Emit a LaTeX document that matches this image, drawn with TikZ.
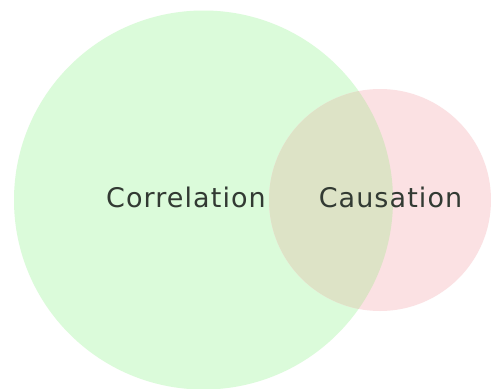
\documentclass[tikz,border=0pt]{standalone}
\usepackage{fontspec}
\setmainfont{DejaVu Sans}
\newfontfamily\lblfont[LetterSpace=4]{DejaVu Sans}
\definecolor{corrgreen}{HTML}{DBFBDA}
\definecolor{causred}{HTML}{FBE1E3}
\definecolor{overlap}{HTML}{DDE3C6}
\definecolor{labeltext}{HTML}{323A33}
\begin{document}
\begin{tikzpicture}[x=1pt,y=-1pt,
  lbl/.style={text=labeltext,font=\lblfont\fontsize{27}{30}\selectfont,anchor=base,inner sep=0pt}]
\useasboundingbox[fill=white] (0,0) rectangle (491,389);
\fill[corrgreen] (203.5,200) circle[radius=189.5];
\fill[causred] (380,200) circle[radius=111];
\begin{scope}
  \clip (203.5,200) circle[radius=189.5];
  \fill[overlap] (380,200) circle[radius=111];
\end{scope}
\node[lbl] (corr) at (186,207) {Correlation};
\node[lbl] (caus) at (390.5,207) {Causation};
\end{tikzpicture}
\end{document}
